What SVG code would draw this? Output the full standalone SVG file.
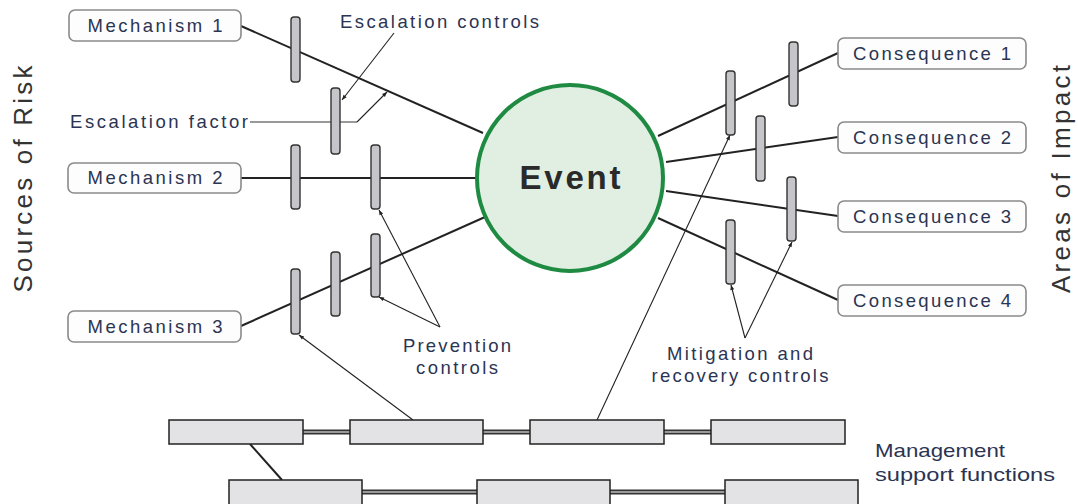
<svg xmlns="http://www.w3.org/2000/svg" width="1078" height="504" viewBox="0 0 1078 504">
<style>
.lbl{font-family:"Liberation Sans",Arial,sans-serif;font-size:18.5px;fill:#2b3452;}
.side{font-family:"Liberation Sans",Arial,sans-serif;font-size:26px;fill:#333;}
.box{fill:#fdfdfd;stroke:#8a8a8a;stroke-width:1.6;}
.bar{fill:#c6c6ca;stroke:#333;stroke-width:1.4;}
.mg{fill:#e3e3e5;stroke:#222;stroke-width:1.5;}
.ln{stroke:#222;stroke-width:2;fill:none;}
.ar{stroke:#222;stroke-width:1.1;fill:none;}
.mgo{stroke:#333;stroke-width:5;}
.mgi{stroke:#9a9a9a;stroke-width:2;}
.mgt{font-family:"Liberation Sans",Arial,sans-serif;font-size:19px;fill:#2b3452;}
</style>
<defs>
<marker id="ah" viewBox="0 0 10 10" refX="10" refY="5" markerWidth="7" markerHeight="5" orient="auto" markerUnits="userSpaceOnUse">
<path d="M0,1 L10,5 L0,9 Z" fill="#222"/>
</marker>
</defs>

<g id="connectors">
<line class="ln" x1="241" y1="26" x2="483" y2="133"/>
<line class="ln" x1="241" y1="178" x2="477" y2="178"/>
<line class="ln" x1="241" y1="326" x2="485" y2="217"/>
<line class="ln" x1="658" y1="136" x2="838" y2="53"/>
<line class="ln" x1="666" y1="162" x2="838" y2="137"/>
<line class="ln" x1="666" y1="191" x2="838" y2="216"/>
<line class="ln" x1="658" y1="218" x2="838" y2="300"/>
<polyline fill="none" stroke="#777" stroke-width="1.3" points="250,122 357,122"/>
<line class="ar" x1="357" y1="122" x2="387" y2="92" marker-end="url(#ah)"/>
<line class="ar" x1="394" y1="33" x2="342" y2="100" marker-end="url(#ah)"/>
<line class="ar" x1="440" y1="327" x2="379" y2="210" marker-end="url(#ah)"/>
<line class="ar" x1="440" y1="327" x2="379" y2="297" marker-end="url(#ah)"/>
<line class="ar" x1="413" y1="420" x2="299" y2="335" marker-end="url(#ah)"/>
<line class="ar" x1="597" y1="420" x2="730" y2="135" marker-end="url(#ah)"/>
<line class="ar" x1="745" y1="338" x2="731" y2="285" marker-end="url(#ah)"/>
<line class="ar" x1="745" y1="338" x2="792" y2="242" marker-end="url(#ah)"/>
<line class="mgo" x1="303" y1="432" x2="350" y2="432"/><line class="mgi" x1="303" y1="432" x2="350" y2="432"/>
<line class="mgo" x1="483" y1="432" x2="530" y2="432"/><line class="mgi" x1="483" y1="432" x2="530" y2="432"/>
<line class="mgo" x1="664" y1="432" x2="711" y2="432"/><line class="mgi" x1="664" y1="432" x2="711" y2="432"/>
<line class="mgo" x1="362" y1="492" x2="477" y2="492"/><line class="mgi" x1="362" y1="492" x2="477" y2="492"/>
<line class="mgo" x1="610" y1="492" x2="725" y2="492"/><line class="mgi" x1="610" y1="492" x2="725" y2="492"/>
<line class="ln" x1="250" y1="444" x2="282" y2="480"/>
</g>

<g id="controls">
<rect class="bar" x="291" y="17" width="9" height="65" rx="3"/>
<rect class="bar" x="331" y="88" width="9" height="66" rx="3"/>
<rect class="bar" x="291" y="145" width="9" height="64" rx="3"/>
<rect class="bar" x="371" y="145" width="9" height="64" rx="3"/>
<rect class="bar" x="291" y="269" width="9" height="65" rx="3"/>
<rect class="bar" x="331" y="252" width="9" height="64" rx="3"/>
<rect class="bar" x="371" y="234" width="9" height="63" rx="3"/>
<rect class="bar" x="726" y="71" width="9" height="64" rx="3"/>
<rect class="bar" x="789" y="42" width="9" height="64" rx="3"/>
<rect class="bar" x="756" y="116" width="9" height="65" rx="3"/>
<rect class="bar" x="787" y="177" width="9" height="64" rx="3"/>
<rect class="bar" x="726" y="220" width="9" height="64" rx="3"/>
</g>

<g id="event">
<circle cx="570" cy="178" r="93" fill="#e0efe2" stroke="#1e8a42" stroke-width="4"/>
<text x="570" y="189" text-anchor="middle" font-family="Liberation Sans,Arial,sans-serif" font-weight="bold" font-size="33" fill="#2a2a2a" textLength="101" lengthAdjust="spacing">Event</text>
</g>

<g id="mechanism1"><rect class="box" x="69" y="10" width="172" height="31" rx="6"/><text class="lbl" x="155" y="32" text-anchor="middle" textLength="135" lengthAdjust="spacing">Mechanism 1</text></g>
<g id="mechanism2"><rect class="box" x="68" y="163" width="173" height="30" rx="6"/><text class="lbl" x="155" y="184" text-anchor="middle" textLength="135" lengthAdjust="spacing">Mechanism 2</text></g>
<g id="mechanism3"><rect class="box" x="68" y="311" width="173" height="31" rx="6"/><text class="lbl" x="155" y="333" text-anchor="middle" textLength="135" lengthAdjust="spacing">Mechanism 3</text></g>

<g id="consequence1"><rect class="box" x="838" y="38" width="188" height="31" rx="6"/><text class="lbl" x="932" y="60" text-anchor="middle" textLength="158" lengthAdjust="spacing">Consequence 1</text></g>
<g id="consequence2"><rect class="box" x="838" y="122" width="188" height="31" rx="6"/><text class="lbl" x="932" y="144" text-anchor="middle" textLength="158" lengthAdjust="spacing">Consequence 2</text></g>
<g id="consequence3"><rect class="box" x="838" y="201" width="188" height="31" rx="6"/><text class="lbl" x="932" y="223" text-anchor="middle" textLength="158" lengthAdjust="spacing">Consequence 3</text></g>
<g id="consequence4"><rect class="box" x="838" y="285" width="188" height="31" rx="6"/><text class="lbl" x="932" y="307" text-anchor="middle" textLength="158" lengthAdjust="spacing">Consequence 4</text></g>

<g id="labels">
<text class="lbl" x="340" y="28" textLength="199" lengthAdjust="spacing">Escalation controls</text>
<text class="lbl" x="70" y="128" textLength="178" lengthAdjust="spacing">Escalation factor</text>
<text class="lbl" x="457" y="352" text-anchor="middle" textLength="108" lengthAdjust="spacing">Prevention</text>
<text class="lbl" x="457" y="374" text-anchor="middle" textLength="82" lengthAdjust="spacing">controls</text>
<text class="lbl" x="740" y="360" text-anchor="middle" textLength="146" lengthAdjust="spacing">Mitigation and</text>
<text class="lbl" x="740" y="382" text-anchor="middle" textLength="177" lengthAdjust="spacing">recovery controls</text>
<text class="side" transform="translate(32,179) rotate(-90)" text-anchor="middle" textLength="227" lengthAdjust="spacing">Sources of Risk</text>
<text class="side" transform="translate(1070,179) rotate(-90)" text-anchor="middle" textLength="228" lengthAdjust="spacing">Areas of Impact</text>
<text class="mgt" x="875" y="457" textLength="130" lengthAdjust="spacingAndGlyphs">Management</text>
<text class="mgt" x="875" y="481" textLength="180" lengthAdjust="spacingAndGlyphs">support functions</text>
</g>

<g id="management">
<rect class="mg" x="169" y="420" width="134" height="24"/>
<rect class="mg" x="350" y="420" width="133" height="24"/>
<rect class="mg" x="530" y="420" width="134" height="24"/>
<rect class="mg" x="711" y="420" width="134" height="24"/>
<rect class="mg" x="229" y="480" width="133" height="30"/>
<rect class="mg" x="477" y="480" width="133" height="30"/>
<rect class="mg" x="725" y="480" width="133" height="30"/>
</g>
</svg>
